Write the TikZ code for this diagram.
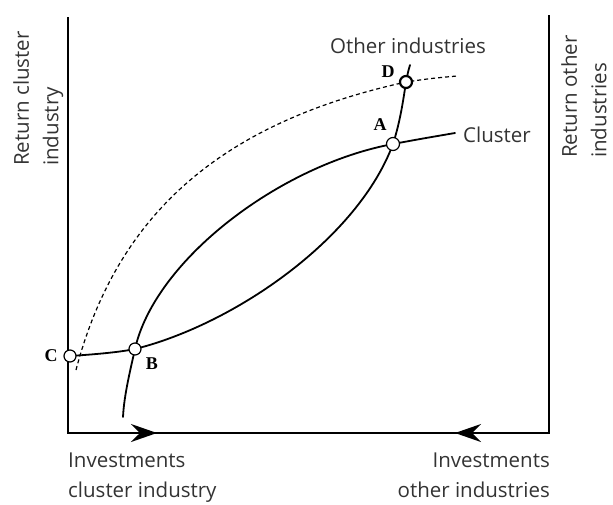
\documentclass[tikz,border=0pt]{standalone}
\usepackage{fontspec}
\setmainfont{Open Sans}
\newfontfamily\ptfont{Liberation Serif}
\usetikzlibrary{arrows.meta}
\tikzset{
  axis/.style={line width=1.8pt},
  curve/.style={line width=1.8pt, line cap=round},
  eqpoint/.style={circle, draw, fill=white, line width=1.2pt, minimum size=12pt, inner sep=0pt},
  ptlabel/.style={font=\ptfont\bfseries\fontsize{18}{18}\selectfont, inner sep=0pt},
  axlabel/.style={font=\fontsize{20.5}{29.5}\selectfont, text=black!80, inner sep=0pt},
  invarrow/.style={-{Stealth[length=26pt, width=18pt, inset=9pt]}},
}
\begin{document}
\begin{tikzpicture}[x=1pt, y=-1pt]
  \useasboundingbox (0,0) rectangle (613,504);
  \coordinate (ltop) at (68,17);
  \coordinate (orig) at (68,433);
  \coordinate (rbot) at (549,433);
  \coordinate (rtop) at (549,15);
  \coordinate (tipc) at (157,433);
  \coordinate (tipo) at (455,433);
  \draw[axis] (ltop) -- (orig) -- (rbot) -- (rtop);
  \draw[axis, invarrow] (orig) -- (tipc);
  \draw[axis, invarrow] (rbot) -- (tipo);
  \coordinate (C) at (70,356);
  \coordinate (B) at (135,349);
  \coordinate (A) at (393,144);
  \coordinate (D) at (406,82);
  \coordinate (dstart) at (76,370);
  \coordinate (dend) at (457,76);
  \coordinate (cstart) at (123,417);
  \coordinate (cend) at (455,133);
  \coordinate (oend) at (410,65);
  \draw[line width=1.2pt, dash pattern=on 4pt off 3pt]
    (dstart) .. controls (118,210) and (226,121.6) .. (D)
             .. controls (430,78.5) .. (dend);
  \draw[curve] (cstart) .. controls (124,395) and (131,367) .. (B)
                        .. controls (155,260) and (280,165) .. (A)
                        .. controls (420,139) .. (cend);
  \draw[curve] (C) .. controls (100,354) and (120,352) .. (B)
                   .. controls (235,324) and (358,238.5) .. (A)
                   .. controls (400,122) and (403,102) .. (D)
                   .. controls (408,72) .. (oend);
  \node[eqpoint] (c) at (C) {};
  \node[eqpoint] (b) at (B) {};
  \node[eqpoint, minimum size=13pt] (a) at (A) {};
  \node[eqpoint, line width=2.2pt] (d) at (D) {};
  \node[ptlabel] (lc) at (51,356) {C};
  \node[ptlabel] (lb) at (152,364) {B};
  \node[ptlabel] (la) at (380,125) {A};
  \node[ptlabel] (ld) at (388,72) {D};
  \node[axlabel, anchor=base] (other) at (408,53) {Other industries};
  \node[axlabel, anchor=base west] (cluster) at (463,142) {Cluster};
  \node[axlabel, rotate=90, anchor=north west, align=left] (retc) at (13,166)
    {Return cluster\\industry};
  \node[axlabel, rotate=90, anchor=north west, align=left] (reto) at (561,158)
    {Return other\\industries};
  \node[axlabel, anchor=north west, align=left] (invc) at (68,453)
    {Investments\\cluster industry};
  \node[axlabel, anchor=north east, align=right] (invo) at (550,453)
    {Investments\\other industries};
\end{tikzpicture}
\end{document}
